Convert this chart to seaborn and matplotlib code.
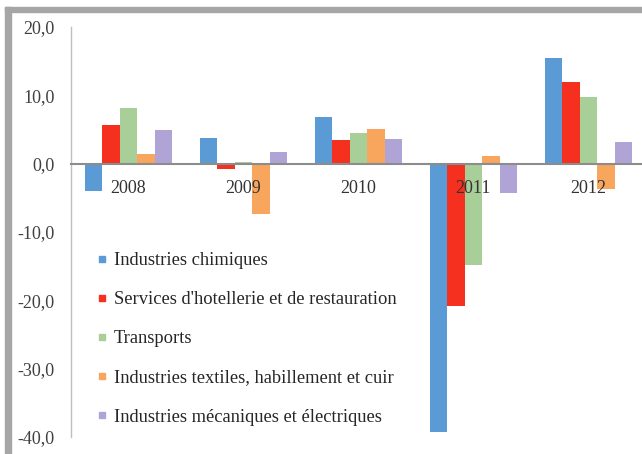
import seaborn as sns
import pandas as pd
import matplotlib.pyplot as plt
from matplotlib.patches import Rectangle
from matplotlib.lines import Line2D

# Data
annees = ['2008', '2009', '2010', '2011', '2012']
secteurs = ['Industries chimiques',
            "Services d'hotellerie et de restauration",
            'Transports',
            'Industries textiles, habillement et cuir',
            'Industries mécaniques et électriques']
chimiques = [-4.0, 3.8, 6.9, -39.2, 15.5]
hotellerie = [5.6, -0.8, 3.4, -20.9, 11.9]
transports = [8.2, 0.3, 4.5, -14.9, 9.8]
textiles = [1.4, -7.4, 5.1, 1.1, -3.7]
mecaniques = [5.0, 1.7, 3.6, -4.3, 3.1]
y_ticks = [20, 10, 0, -10, -20, -30, -40]
y_labels = ['20,0', '10,0', '0,0', '-10,0', '-20,0', '-30,0', '-40,0']

couleurs = ['#5B9BD5', '#F5301E', '#A9CF98', '#F8A55D', '#B0A4D6']

rows = []
for nom, valeurs in zip(secteurs, [chimiques, hotellerie, transports, textiles, mecaniques]):
    for an, v in zip(annees, valeurs):
        rows.append([an, nom, v])
df = pd.DataFrame(rows, columns=['Année', 'Secteur', 'Valeur'])

sns.set_style('white')
plt.rcParams['font.family'] = ['Liberation Serif', 'DejaVu Serif']

fig = plt.figure(figsize=(6.42, 4.54), dpi=100)
ax = fig.add_axes([71 / 642, 17 / 454, 575 / 642, 410 / 454])

sns.barplot(data=df, x='Année', y='Valeur', hue='Secteur', hue_order=secteurs,
            palette=couleurs, saturation=1, width=0.76, gap=0.02,
            linewidth=0, ax=ax)

ax.set_axisbelow(False)  # year labels sit on top of the bars
ax.set_xlim(-0.5, 4.5)
ax.set_ylim(-40, 20)
ax.set_yticks(y_ticks, y_labels)
ax.set_xlabel('')
ax.set_ylabel('')

for s in ['top', 'right']:
    ax.spines[s].set_visible(False)
ax.spines['bottom'].set_position(('data', 0))
ax.spines['bottom'].set_color('#8C8C8C')
ax.spines['bottom'].set_linewidth(1.5)
ax.spines['left'].set_color('#BFBFBF')
ax.spines['left'].set_linewidth(1.0)

ax.tick_params(axis='x', length=0, pad=12, labelsize=13, labelcolor='#333333')
ax.tick_params(axis='y', length=0, pad=12, labelsize=13, labelcolor='#404040')

# small square markers like the original legend
handles = [Line2D([], [], marker='s', linestyle='', markersize=5,
                  markerfacecolor=c, markeredgecolor=c) for c in couleurs]
ax.get_legend().remove()
leg = ax.legend(handles, secteurs, loc='upper left',
                bbox_to_anchor=(98 / 642, 1 - 252 / 454),
                bbox_transform=fig.transFigure, frameon=False, fontsize=13.3,
                handlelength=0.4, handletextpad=0.45,
                labelspacing=1.2, borderpad=0, borderaxespad=0)
for t in leg.get_texts():
    t.set_color('#262626')

# grey frame of the original picture (top and left edges only)
fig.patches.append(Rectangle((5 / 642, 1 - 12 / 454), 637 / 642, 5 / 454,
                             transform=fig.transFigure, color='#A6A6A6', zorder=0))
fig.patches.append(Rectangle((5 / 642, 0), 6 / 642, 1 - 7 / 454,
                             transform=fig.transFigure, color='#A6A6A6', zorder=0))

fig.savefig('out.png', dpi=100)
